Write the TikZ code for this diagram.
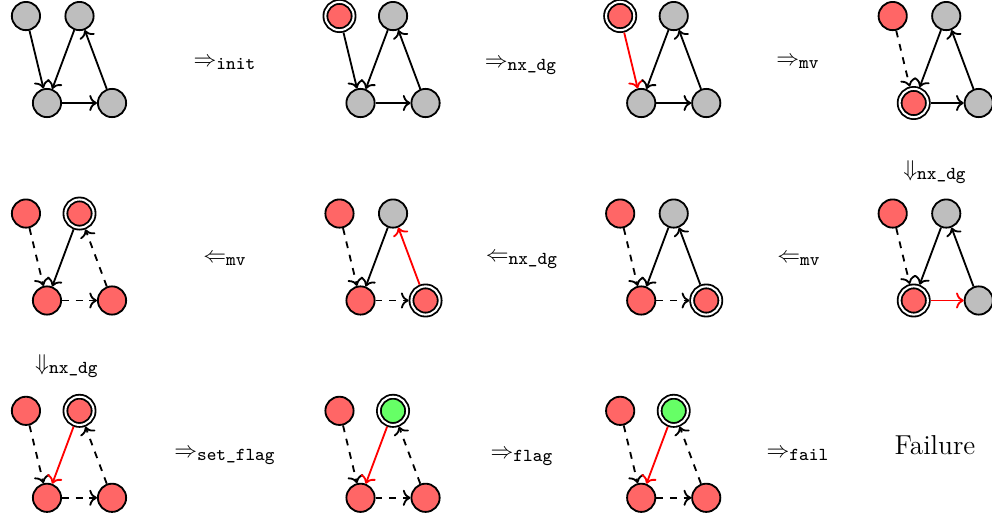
\documentclass[tikz,border=0pt]{standalone}
\usepackage{amsmath}
\usepackage{amssymb}
\usepackage{xcolor}
\usetikzlibrary{arrows.meta, positioning}
\DeclareMathSizes{10}{10}{8}{6}
\definecolor{nodegray}{RGB}{190, 190, 190}
\definecolor{nodered}{RGB}{255, 102, 102}
\definecolor{nodegreen}{RGB}{102, 255, 102}

\begin{document}
\begin{tikzpicture}[
        vx/.style={
            circle,
            draw,
            thick,
            minimum size=0.435cm,
            inner sep=0pt
        },
        idle/.style={vx, fill=nodegray},
        seen/.style={vx, fill=nodered},
        cur/.style={seen, double, double distance=0.9pt, outer sep=1.25pt},
        flagged/.style={vx, fill=nodegreen, double, double distance=0.9pt, outer sep=1.25pt},
        link/.style={->, thick},
        trail/.style={link, dashed},
        live/.style={link, draw=red},
        rule/.style={inner sep=0pt}
    ]
        \useasboundingbox (0,0) rectangle (15.285,-8.028);

        % graph states: centre, node styles a b c d, edge styles a-c b-c c-d d-b
        \foreach \gx/\gy/\sa/\sb/\sc/\sd/\ac/\bc/\cd/\db [count=\n] in {
            1.063/-0.917/idle/idle/idle/idle/link/link/link/link,
            5.894/-0.917/cur/idle/idle/idle/link/link/link/link,
            10.219/-0.917/cur/idle/idle/idle/live/link/link/link,
            14.418/-0.917/seen/idle/cur/idle/trail/link/link/link,
            14.418/-3.960/seen/idle/cur/idle/trail/link/live/link,
            10.219/-3.960/seen/idle/seen/cur/trail/link/trail/link,
            5.894/-3.960/seen/idle/seen/cur/trail/link/trail/live,
            1.063/-3.960/seen/cur/seen/seen/trail/link/trail/trail,
            1.063/-7.000/seen/cur/seen/seen/trail/live/trail/trail,
            5.894/-7.000/seen/flagged/seen/seen/trail/live/trail/trail,
            10.219/-7.000/seen/flagged/seen/seen/trail/live/trail/trail}
        {
            \begin{scope}[shift={(\gx,\gy)}]
                \node[\sa] (a\n) at (-0.663, 0.670) {};
                \node[\sb] (b\n) at (0.162, 0.670) {};
                \node[\sc] (c\n) at (-0.339, -0.670) {};
                \node[\sd] (d\n) at (0.663, -0.670) {};
                \draw[\ac] (a\n) -- (c\n);
                \draw[\bc] (b\n) -- (c\n);
                \draw[\cd] (c\n) -- (d\n);
                \draw[\db] (d\n) -- (b\n);
            \end{scope}
        }

        \node[rule] (init) at (3.467, -0.986) {$\Rightarrow_{\texttt{init}}$};
        \node[rule] (nxdga) at (8.028, -1.032) {$\Rightarrow_{\texttt{nx\_dg}}$};
        \node[rule] (mva) at (12.296, -0.971) {$\Rightarrow_{\texttt{mv}}$};
        \node[rule] (nxdgb) at (14.407, -2.650) {$\Downarrow_{\texttt{nx\_dg}}$};
        \node[rule] (mvb) at (12.311, -4.006) {$\Leftarrow_{\texttt{mv}}$};
        \node[rule] (nxdgc) at (8.043, -4.022) {$\Leftarrow_{\texttt{nx\_dg}}$};
        \node[rule] (mvc) at (3.467, -4.006) {$\Leftarrow_{\texttt{mv}}$};
        \node[rule] (nxdgd) at (1.032, -5.639) {$\Downarrow_{\texttt{nx\_dg}}$};
        \node[rule] (setflag) at (3.467, -7.042) {$\Rightarrow_{\texttt{set\_flag}}$};
        \node[rule] (flag) at (8.043, -7.057) {$\Rightarrow_{\texttt{flag}}$};
        \node[rule] (fail) at (12.296, -7.011) {$\Rightarrow_{\texttt{fail}}$};
        \node[rule, font=\large] (failure) at (14.407, -6.857) {Failure};
    \end{tikzpicture}
\end{document}
